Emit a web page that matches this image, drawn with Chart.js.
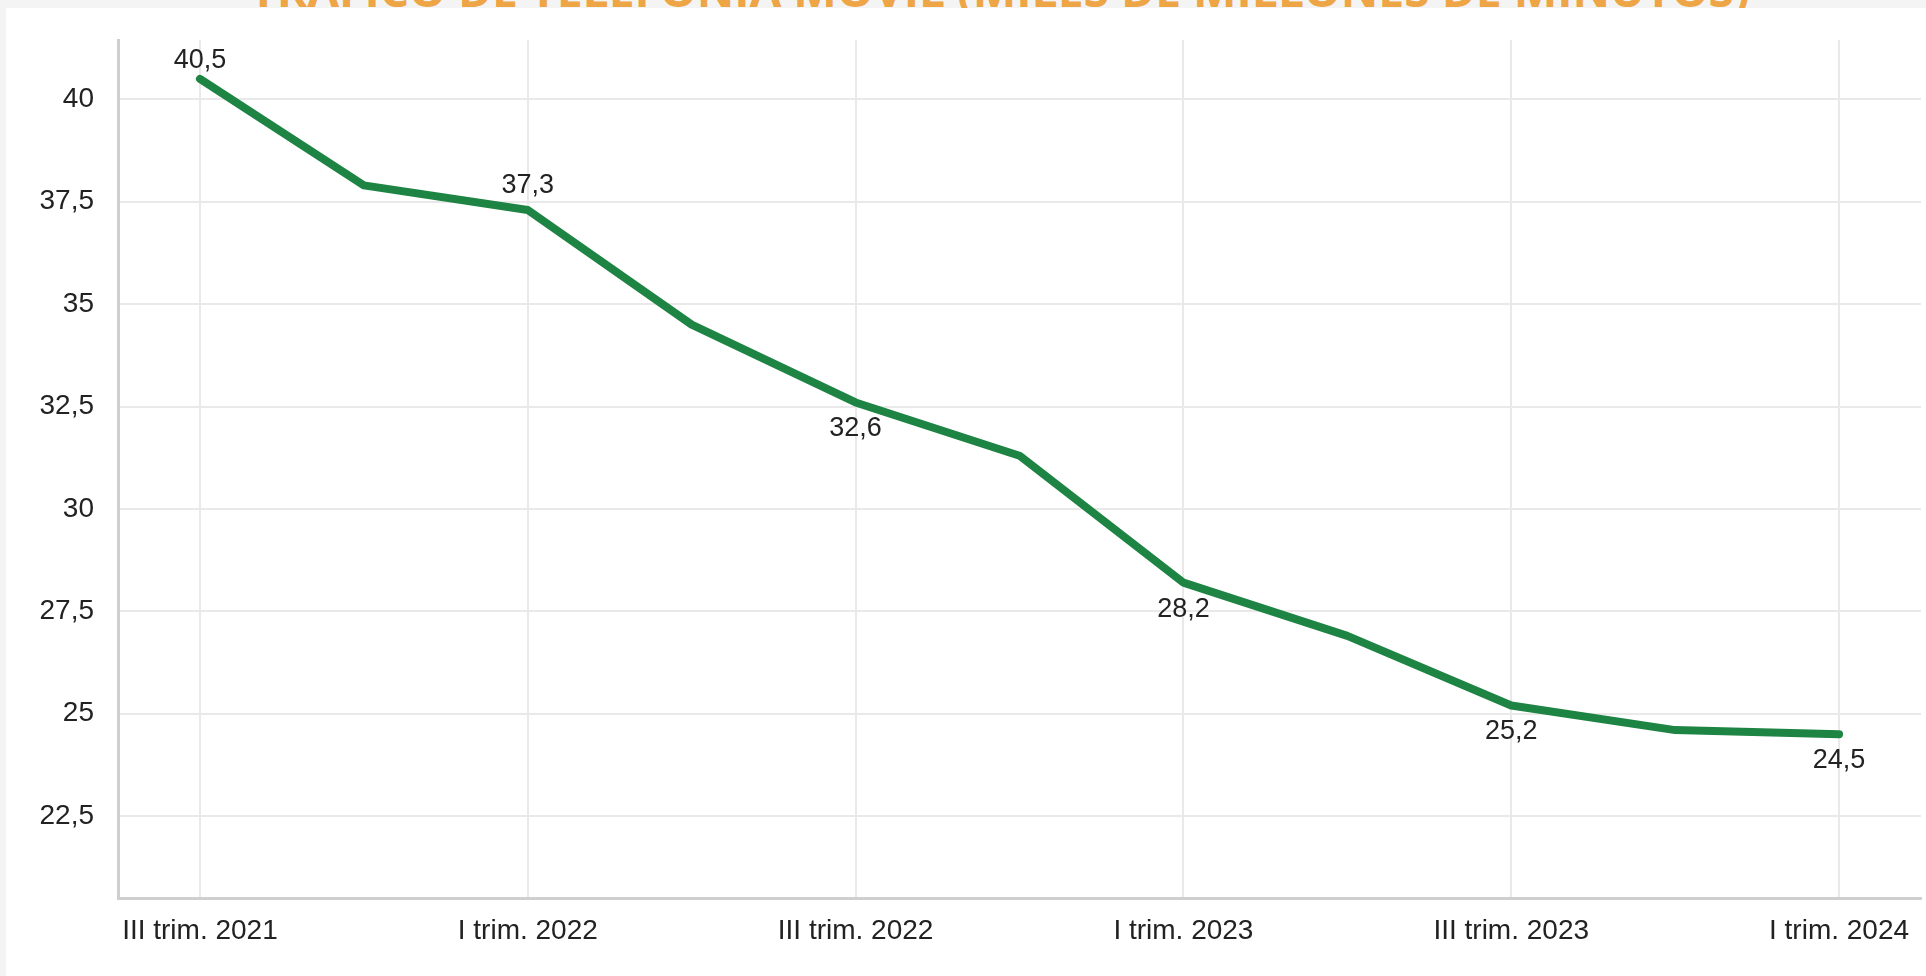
<!DOCTYPE html>
<html lang="es">
<head>
<meta charset="utf-8">
<title>Tráfico de telefonía móvil</title>
<script src="https://cdn.jsdelivr.net/npm/chart.js@4.4.1/dist/chart.umd.min.js"></script>
<style>
    html, body {
        margin: 0;
        padding: 0;
        width: 1926px;
        height: 976px;
        overflow: hidden;
        background: #f4f4f4;
    }
    #title {
        position: absolute;
        left: 250px;
        top: -32px;
        margin: 0;
        font-family: "Open Sans", sans-serif;
        font-weight: 700;
        font-size: 44px;
        line-height: 1;
        color: #eda545;
        white-space: nowrap;
        transform-origin: left top;
    }
    #panel {
        position: absolute;
        left: 6px;
        top: 8px;
        width: 1920px;
        height: 968px;
        background: #ffffff;
    }
    #panel canvas {
        display: block;
    }
</style>
</head>
<body>
<h1 id="title">TRÁFICO DE TELEFONÍA MÓVIL (MILES DE MILLONES DE MINUTOS)</h1>
<div id="panel">
    <canvas id="trafficChart" width="1920" height="968"></canvas>
</div>
<script>
// quarters shown on the x axis
var quarters = [
    'III trim. 2021', 'IV trim. 2021', 'I trim. 2022', 'II trim. 2022',
    'III trim. 2022', 'IV trim. 2022', 'I trim. 2023', 'II trim. 2023',
    'III trim. 2023', 'IV trim. 2023', 'I trim. 2024'
];

// mobile traffic, thousands of millions of minutes
var minutes = [40.5, 37.9, 37.3, 34.5, 32.6, 31.3, 28.2, 26.9, 25.2, 24.6, 24.5];

// which points carry a value label, and on which side of the line
var labelledPoints = [0, 2, 4, 6, 8, 10];
var labelSides = ['above', 'above', 'below', 'below', 'below', 'below'];

// y axis range and step
var yMin = 20.5;
var yMax = 41.45;
var yStep = 2.5;

function comma(v) {
    return String(v).replace('.', ',');
}

// fit the title to the width it takes in the original
var title = document.getElementById('title');
title.style.transform = 'scaleX(' + (1500 / title.offsetWidth) + ')';

// small plugin to write the values next to some points
var valueLabels = {
    id: 'valueLabels',
    afterDatasetsDraw: function (chart) {
        var ctx = chart.ctx;
        var meta = chart.getDatasetMeta(0);
        var area = chart.chartArea;
        ctx.save();
        ctx.font = '27px "Liberation Sans", Arial, sans-serif';
        ctx.fillStyle = '#222222';
        ctx.textAlign = 'center';
        labelledPoints.forEach(function (idx, k) {
            var pt = meta.data[idx];
            var text = minutes[idx].toFixed(1).replace('.', ',');
            if (labelSides[k] === 'above') {
                ctx.textBaseline = 'bottom';
                var y = pt.y - 11;
                if (y - 24 < area.top + 8) {
                    y = area.top + 34;
                }
                ctx.fillText(text, pt.x, y);
            } else {
                ctx.textBaseline = 'top';
                ctx.fillText(text, pt.x, pt.y + 13);
            }
        });
        ctx.restore();
    }
};

Chart.defaults.font.family = '"Liberation Sans", Arial, sans-serif';
Chart.defaults.color = '#222222';

var chartCtx = document.getElementById('trafficChart').getContext('2d');

new Chart(chartCtx, {
    type: 'line',
    data: {
        labels: quarters,
        datasets: [{
            data: minutes,
            borderColor: '#1e8443',
            borderWidth: 8,
            borderCapStyle: 'round',
            borderJoinStyle: 'round',
            pointRadius: 0,
            pointHoverRadius: 0,
            tension: 0,
            fill: false
        }]
    },
    options: {
        responsive: false,
        animation: false,
        events: [],
        layout: {
            padding: { top: 32, right: 5, bottom: 18, left: 0 }
        },
        plugins: {
            legend: { display: false },
            tooltip: { enabled: false }
        },
        scales: {
            x: {
                offset: true,
                grid: {
                    drawTicks: false,
                    lineWidth: 2,
                    color: function (c) {
                        return c.index % 2 === 0 ? '#e9e9e9' : 'rgba(0,0,0,0)';
                    }
                },
                border: { color: '#cfcfcf', width: 3 },
                ticks: {
                    autoSkip: false,
                    maxRotation: 0,
                    padding: 16,
                    font: { size: 28 },
                    callback: function (val, i) {
                        return i % 2 === 0 ? quarters[i] : '';
                    }
                },
                afterFit: function (axis) {
                    axis.height = 60;
                }
            },
            y: {
                min: yMin,
                max: yMax,
                grid: {
                    drawTicks: false,
                    lineWidth: 2,
                    color: '#e9e9e9'
                },
                border: { color: '#cfcfcf', width: 3 },
                ticks: {
                    stepSize: yStep,
                    padding: 24,
                    font: { size: 28 },
                    callback: function (v) {
                        return comma(v);
                    }
                },
                afterBuildTicks: function (axis) {
                    // keep only the round steps, not the range ends
                    axis.ticks = axis.ticks.filter(function (t) {
                        return Math.abs(t.value / yStep - Math.round(t.value / yStep)) < 1e-6;
                    });
                },
                afterFit: function (axis) {
                    axis.width = 112;
                    // the label padding would otherwise push the plot down
                    axis.paddingTop = 0;
                    axis.paddingBottom = 0;
                }
            }
        }
    },
    plugins: [valueLabels]
});
</script>
</body>
</html>
